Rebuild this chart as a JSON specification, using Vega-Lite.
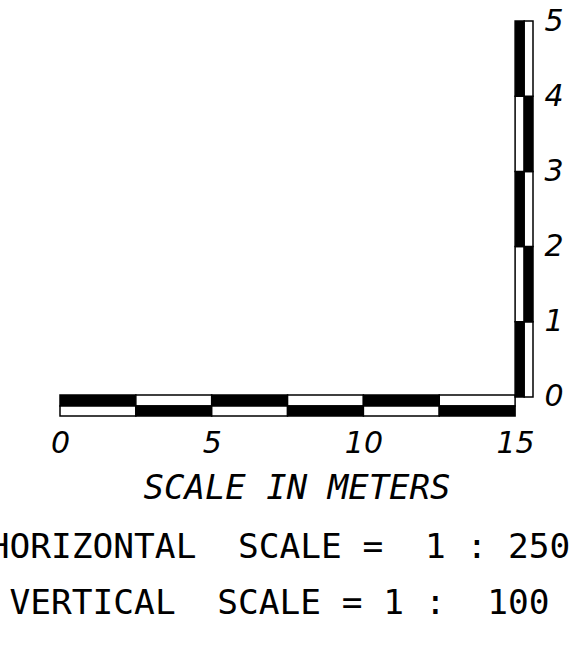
{
  "$schema": "https://vega.github.io/schema/vega-lite/v6.json",
  "autosize": {"type": "none"},
  "width": 473,
  "height": 395,
  "padding": {"left": 60, "top": 21, "right": 55, "bottom": 232},
  "background": "#ffffff",
  "config": {"view": {"stroke": null}},
  "title": {
    "text": ["HORIZONTAL\u00a0\u00a0SCALE =\u00a0\u00a01 : 250", "VERTICAL\u00a0\u00a0SCALE = 1 :\u00a0\u00a0100"],
    "orient": "bottom",
    "anchor": "middle",
    "font": "DejaVu Sans Mono",
    "fontSize": 34.5,
    "fontWeight": "normal",
    "color": "#000000",
    "lineHeight": 56,
    "dx": -17,
    "offset": 26
  },
  "data": {
    "values": [
      {"part": "horizontal", "x0": 0, "x1": 2.5, "y0": -0.12, "y1": 0.027, "tone": "black"},
      {"part": "horizontal", "x0": 2.5, "x1": 5, "y0": -0.12, "y1": 0.027, "tone": "white"},
      {"part": "horizontal", "x0": 5, "x1": 7.5, "y0": -0.12, "y1": 0.027, "tone": "black"},
      {"part": "horizontal", "x0": 7.5, "x1": 10, "y0": -0.12, "y1": 0.027, "tone": "white"},
      {"part": "horizontal", "x0": 10, "x1": 12.5, "y0": -0.12, "y1": 0.027, "tone": "black"},
      {"part": "horizontal", "x0": 12.5, "x1": 15, "y0": -0.12, "y1": 0.027, "tone": "white"},
      {"part": "horizontal", "x0": 0, "x1": 2.5, "y0": -0.253, "y1": -0.12, "tone": "white"},
      {"part": "horizontal", "x0": 2.5, "x1": 5, "y0": -0.253, "y1": -0.12, "tone": "black"},
      {"part": "horizontal", "x0": 5, "x1": 7.5, "y0": -0.253, "y1": -0.12, "tone": "white"},
      {"part": "horizontal", "x0": 7.5, "x1": 10, "y0": -0.253, "y1": -0.12, "tone": "black"},
      {"part": "horizontal", "x0": 10, "x1": 12.5, "y0": -0.253, "y1": -0.12, "tone": "white"},
      {"part": "horizontal", "x0": 12.5, "x1": 15, "y0": -0.253, "y1": -0.12, "tone": "black"},
      {"part": "vertical", "x0": 15, "x1": 15.3, "y0": 0, "y1": 1, "tone": "black"},
      {"part": "vertical", "x0": 15, "x1": 15.3, "y0": 1, "y1": 2, "tone": "white"},
      {"part": "vertical", "x0": 15, "x1": 15.3, "y0": 2, "y1": 3, "tone": "black"},
      {"part": "vertical", "x0": 15, "x1": 15.3, "y0": 3, "y1": 4, "tone": "white"},
      {"part": "vertical", "x0": 15, "x1": 15.3, "y0": 4, "y1": 5, "tone": "black"},
      {"part": "vertical", "x0": 15.3, "x1": 15.59, "y0": 0, "y1": 1, "tone": "white"},
      {"part": "vertical", "x0": 15.3, "x1": 15.59, "y0": 1, "y1": 2, "tone": "black"},
      {"part": "vertical", "x0": 15.3, "x1": 15.59, "y0": 2, "y1": 3, "tone": "white"},
      {"part": "vertical", "x0": 15.3, "x1": 15.59, "y0": 3, "y1": 4, "tone": "black"},
      {"part": "vertical", "x0": 15.3, "x1": 15.59, "y0": 4, "y1": 5, "tone": "white"}
    ]
  },
  "mark": {"type": "rect", "stroke": "#000000", "strokeWidth": 1.5},
  "encoding": {
    "x": {
      "field": "x0",
      "type": "quantitative",
      "scale": {"domain": [0, 15.59], "nice": false, "zero": false},
      "axis": {
        "values": [0, 5, 10, 15],
        "domain": false,
        "ticks": false,
        "grid": false,
        "labelFont": "DejaVu Sans",
        "labelFontStyle": "italic",
        "labelFontSize": 30,
        "labelColor": "#000000",
        "labelPadding": 12,
        "labelFlush": false,
        "title": "SCALE IN METERS",
        "titleFont": "DejaVu Sans Mono",
        "titleFontStyle": "italic",
        "titleFontSize": 34,
        "titleFontWeight": "normal",
        "titleColor": "#000000",
        "titlePadding": 13
      }
    },
    "x2": {"field": "x1"},
    "y": {
      "field": "y0",
      "type": "quantitative",
      "scale": {"domain": [-0.253, 5], "nice": false, "zero": false},
      "axis": {
        "orient": "right",
        "values": [0, 1, 2, 3, 4, 5],
        "domain": false,
        "ticks": false,
        "grid": false,
        "labelFont": "DejaVu Sans",
        "labelFontStyle": "italic",
        "labelFontSize": 30,
        "labelColor": "#000000",
        "labelPadding": 11,
        "labelFlush": false,
        "title": null
      }
    },
    "y2": {"field": "y1"},
    "fill": {
      "field": "tone",
      "type": "nominal",
      "scale": {"domain": ["black", "white"], "range": ["#000000", "#ffffff"]},
      "legend": null
    }
  }
}
